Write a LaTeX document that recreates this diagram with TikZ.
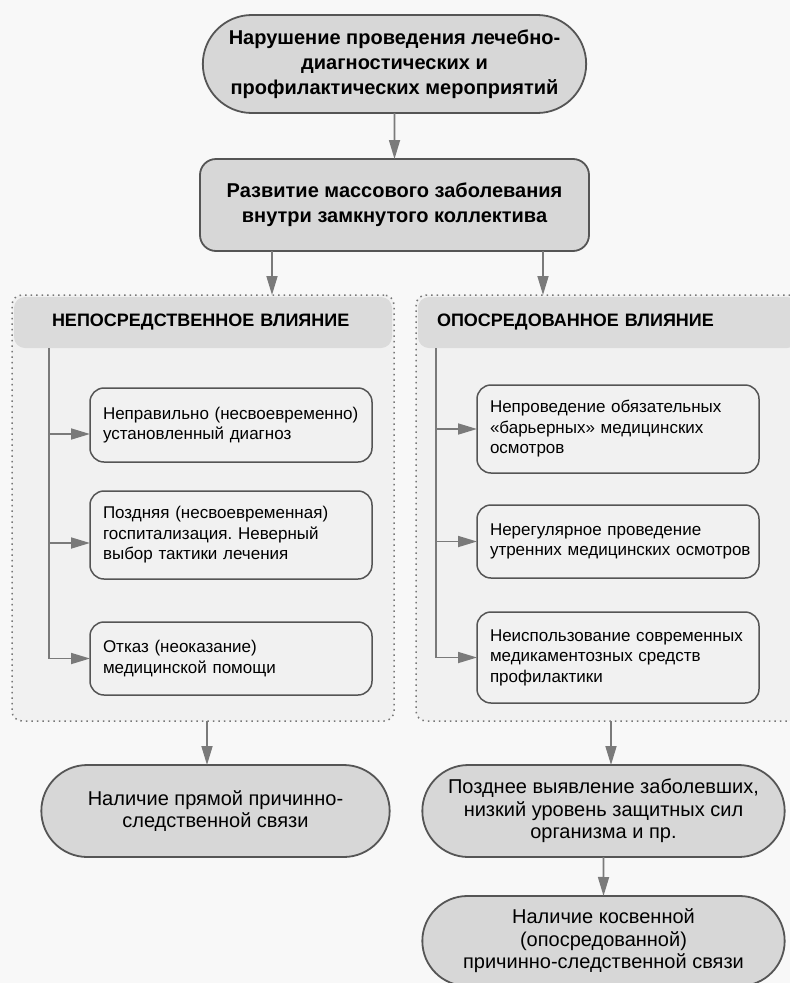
\documentclass[tikz,border=0pt]{standalone}
\usepackage{fontspec}
\setmainfont{Liberation Sans}
\frenchspacing
\usetikzlibrary{arrows.meta,shapes.misc}
\definecolor{bgc}{HTML}{F8F8F8}
\definecolor{panelc}{HTML}{F1F1F1}
\definecolor{bandc}{HTML}{DBDBDB}
\definecolor{stadc}{HTML}{D7D7D7}
\definecolor{edgec}{HTML}{555555}
\definecolor{arrc}{HTML}{7A7A7A}

\begin{document}
\begin{tikzpicture}[x=1pt,y=-1pt,
  every node/.style={outer sep=0pt},
  stad/.style={rounded rectangle, draw=edgec, fill=stadc, line width=1.8pt, align=center, font=\fontsize{20}{22.5}\selectfont},
  topbox/.style={rectangle, rounded corners=16pt, draw=edgec, fill=stadc, line width=1.8pt, align=center, font=\fontsize{20}{25}\selectfont\bfseries},
  panel/.style={rectangle, rounded corners=10pt, draw=edgec!80, dash pattern=on 1.5pt off 4pt, line width=1.5pt, fill=panelc},
  band/.style={rectangle, rounded corners=11pt, fill=bandc, align=left, minimum height=51pt, font=\fontsize{18}{22}\selectfont\bfseries},
  item/.style={rectangle, rounded corners=14pt, draw=edgec, line width=1.5pt, fill=panelc, align=left, inner xsep=13pt, text width=256pt, font=\fontsize{17}{20.5}\selectfont},
  conn/.style={draw=arrc, line width=1.7pt},
  arr/.style={conn, -{Triangle[length=19pt,width=11pt]}}]

\useasboundingbox[fill=bgc] (0,0) rectangle (790,983);

\node[stad, minimum width=390pt, minimum height=98pt, font=\fontsize{20}{25}\selectfont\bfseries] (viol) at (394.5,64) {Нарушение проведения лечебно-\\диагностических и\\профилактических мероприятий};
\node[topbox, minimum width=389pt, minimum height=92pt] (mass) at (394.5,205) {Развитие массового заболевания\\внутри замкнутого коллектива};

\node[panel, minimum width=382pt, minimum height=426pt] (pl) at (203,508) {};
\node[panel, minimum width=384pt, minimum height=426pt] (pr) at (608,508) {};
\node[band, anchor=north, inner xsep=38pt, text width=302pt] (hl) at (203,297) {НЕПОСРЕДСТВЕННОЕ ВЛИЯНИЕ};
\node[band, anchor=north, inner xsep=19pt, text width=342pt] (hr) at (608,297) {ОПОСРЕДОВАННОЕ ВЛИЯНИЕ};

\node[item, minimum height=74pt] (b1) at (231,425) {Неправильно (несвоевременно)\\установленный диагноз};
\node[item, minimum height=88pt] (b2) at (231,535) {Поздняя (несвоевременная)\\госпитализация. Неверный\\выбор тактики лечения};
\node[item, minimum height=73pt] (b3) at (231,658.5) {Отказ (неоказание)\\медицинской помощи};
\node[item, minimum height=88pt] (r1) at (618,429) {Непроведение обязательных\\«барьерных» медицинских\\осмотров};
\node[item, minimum height=73pt] (r2) at (618,541.5) {Нерегулярное проведение\\\mbox{утренних медицинских осмотров}};
\node[item, minimum height=91pt] (r3) at (618,657.5) {Неиспользование современных\\медикаментозных средств\\профилактики};

\node[stad, minimum width=355pt, minimum height=92pt] (resl) at (215.5,811) {Наличие прямой причинно-\\следственной связи};
\node[stad, minimum width=369pt, minimum height=92pt] (resr) at (603.5,811) {Позднее выявление заболевших,\\низкий уровень защитных сил\\организма и пр.};
\node[stad, minimum width=369pt, minimum height=90pt] (resk) at (603.5,941) {Наличие косвенной\\(опосредованной)\\причинно-следственной связи};

\coordinate (ml) at (272,0);
\coordinate (mr) at (543,0);
\coordinate (vl) at (49,0);
\coordinate (vr) at (436,0);
\coordinate (dl) at (207,0);
\coordinate (dr) at (611,0);

\draw[arr] (viol) -- (mass);
\draw[arr] (mass.south -| ml) -- (pl.north -| ml);
\draw[arr] (mass.south -| mr) -- (pr.north -| mr);

\draw[conn] (hl.south -| vl) -- (vl |- b3.west);
\draw[arr] ([yshift=-9pt]b1.west -| vl) -- ([yshift=-9pt]b1.west);
\draw[arr] ([yshift=-8pt]b2.west -| vl) -- ([yshift=-8pt]b2.west);
\draw[arr] (b3.west -| vl) -- (b3.west);

\draw[conn] (hr.south -| vr) -- (vr |- r3.west);
\draw[arr] (r1.west -| vr) -- (r1.west);
\draw[arr] (r2.west -| vr) -- (r2.west);
\draw[arr] (r3.west -| vr) -- (r3.west);

\draw[arr] (pl.south -| dl) -- (resl.north -| dl);
\draw[arr] (pr.south -| dr) -- (resr.north -| dr);
\draw[arr] (resr) -- (resk);
\end{tikzpicture}
\end{document}
